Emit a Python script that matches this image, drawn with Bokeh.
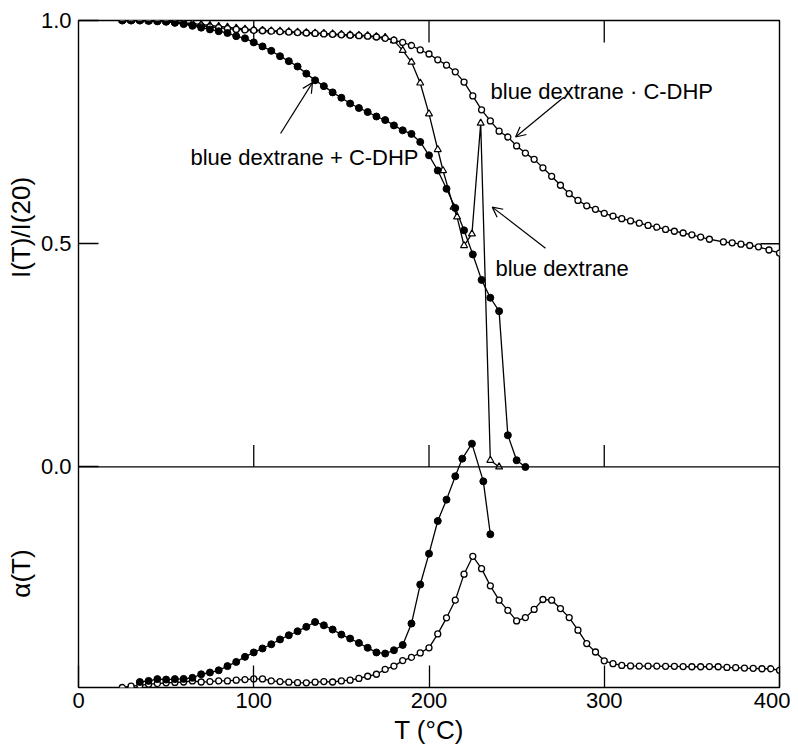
import math
from bokeh.plotting import figure
from bokeh.models import Range1d, LinearAxis, FixedTicker, Span, Label, Arrow, OpenHead, NumeralTickFormatter
from bokeh.embed import file_html
from bokeh.resources import INLINE

# ---------------- data ----------------
# I(T)/I(20) : blue dextrane . C-DHP (open circles)
bdc_T = [25, 30, 35, 40, 45, 50, 55, 60, 65, 70, 75, 80, 85, 90, 95, 100, 105, 110, 115, 120,
         125, 130, 135, 140, 145, 150, 155, 160, 165, 170, 175, 180, 185, 190, 195, 200, 205, 210,
         215, 220, 225, 230, 235, 240, 245, 250, 255, 260, 265, 270, 275, 280, 285, 290, 295, 300,
         305, 310, 315, 320, 325, 330, 335, 340, 345, 350, 355, 360, 368, 373, 378, 383, 388, 394, 400]
bdc_I = [1.000, 1.000, 1.000, 1.000, 1.000, 0.998, 0.995, 0.993, 0.990, 0.988, 0.986, 0.984, 0.982,
         0.980, 0.979, 0.978, 0.977, 0.976, 0.975, 0.974, 0.973, 0.972, 0.971, 0.970, 0.969, 0.968,
         0.967, 0.966, 0.965, 0.963, 0.960, 0.956, 0.951, 0.944, 0.934, 0.925, 0.912, 0.900, 0.885,
         0.862, 0.831, 0.800, 0.775, 0.752, 0.739, 0.719, 0.703, 0.689, 0.670, 0.651, 0.631, 0.612,
         0.597, 0.585, 0.577, 0.568, 0.562, 0.556, 0.551, 0.546, 0.541, 0.537, 0.532, 0.528, 0.524,
         0.520, 0.515, 0.510, 0.504, 0.502, 0.499, 0.496, 0.493, 0.486, 0.479]

# I(T)/I(20) : blue dextrane (open triangles)
bd_T = [25, 30, 35, 40, 45, 50, 55, 60, 65, 70, 75, 80, 85, 90, 95, 100, 105, 110, 115, 120, 125,
        130, 135, 140, 145, 150, 155, 160, 165, 170, 175, 180, 185, 190, 195, 200, 205, 208, 214,
        216, 220, 224.5, 229.5, 235, 240]
bd_I = [1.000, 1.000, 1.000, 0.999, 0.999, 0.998, 0.997, 0.995, 0.993, 0.991, 0.989, 0.987, 0.985,
        0.983, 0.981, 0.979, 0.978, 0.977, 0.976, 0.975, 0.974, 0.973, 0.972, 0.971, 0.970, 0.969,
        0.968, 0.967, 0.966, 0.964, 0.962, 0.955, 0.933, 0.907, 0.860, 0.791, 0.711, 0.664, 0.582,
        0.560, 0.496, 0.522, 0.770, 0.015, 0.000]

# I(T)/I(20) : blue dextrane + C-DHP (filled circles)
mix_T = [25, 30, 35, 40, 45, 50, 55, 60, 65, 70, 75, 80, 85, 90, 95, 100, 105, 110, 115, 120, 125,
         130, 135, 140, 145, 150, 155, 160, 165, 170, 175, 180, 185, 190, 195, 200, 205, 210, 215,
         220, 225, 230, 235, 240, 245, 250, 255]
mix_I = [1.000, 1.000, 1.000, 0.999, 0.998, 0.997, 0.995, 0.992, 0.988, 0.984, 0.980, 0.976, 0.972,
         0.965, 0.960, 0.951, 0.942, 0.932, 0.920, 0.909, 0.897, 0.881, 0.866, 0.853, 0.839, 0.827,
         0.814, 0.804, 0.795, 0.785, 0.777, 0.765, 0.754, 0.746, 0.728, 0.698, 0.664, 0.623, 0.580,
         0.530, 0.476, 0.419, 0.379, 0.349, 0.071, 0.015, 0.000]

# alpha(T) (arbitrary units) : blue dextrane + C-DHP (filled circles)
amix_T = [35, 40, 45, 50, 55, 60, 65, 70, 75, 80, 85, 90, 95, 100, 105, 110, 115, 120, 125, 130,
          135, 140, 145, 150, 155, 160, 165, 170, 175, 180, 185, 190, 195, 200, 205, 210, 215, 219,
          224.5, 231, 235]
amix_a = [0.025, 0.030, 0.038, 0.036, 0.038, 0.039, 0.044, 0.060, 0.068, 0.078, 0.097, 0.116, 0.139,
          0.159, 0.177, 0.196, 0.218, 0.237, 0.255, 0.275, 0.297, 0.282, 0.263, 0.240, 0.222, 0.202,
          0.180, 0.159, 0.154, 0.169, 0.193, 0.290, 0.467, 0.607, 0.755, 0.852, 0.958, 1.038, 1.106,
          0.935, 0.695]

# alpha(T) (arbitrary units) : blue dextrane . C-DHP (open circles)
abdc_T = [25, 30, 35, 40, 45, 50, 55, 60, 65, 70, 75, 80, 85, 90, 95, 100, 105, 110, 115, 120, 125,
          130, 135, 140, 145, 150, 155, 160, 165, 170, 175, 180, 185, 190, 195, 200, 205, 210, 215,
          220, 225, 230, 235, 240, 245, 250, 255, 260, 265, 270, 275, 280, 285, 290, 295, 300, 305,
          310, 315, 320, 325, 330, 335, 340, 345, 350, 355, 360, 365, 370, 375, 380, 385, 390, 395, 400]
abdc_a = [0.000, 0.006, 0.010, 0.015, 0.018, 0.021, 0.023, 0.025, 0.030, 0.025, 0.027, 0.030, 0.030,
          0.033, 0.036, 0.039, 0.039, 0.030, 0.027, 0.024, 0.022, 0.021, 0.024, 0.027, 0.025, 0.030,
          0.033, 0.041, 0.051, 0.060, 0.082, 0.097, 0.122, 0.137, 0.157, 0.180, 0.243, 0.316, 0.396,
          0.514, 0.595, 0.539, 0.461, 0.396, 0.350, 0.302, 0.317, 0.354, 0.399, 0.396, 0.358, 0.317,
          0.260, 0.199, 0.161, 0.121, 0.108, 0.100, 0.098, 0.097, 0.097, 0.097, 0.096, 0.096, 0.095,
          0.094, 0.094, 0.095, 0.094, 0.091, 0.090, 0.088, 0.087, 0.085, 0.085, 0.078]

x_ticks = [0, 100, 200, 300, 400]
y_ticks = [0.0, 0.5, 1.0]
inner_ticks = [100, 200, 300]
right_ticks = [0.5]
# positions (in frame pixels from the bottom) of the two y-axis titles
title_pos = {114: "α(T)", 460: "I(T)/I(20)"}

FONT = "Liberation Sans"
FRAME_W, FRAME_H = 701, 667
Y0, Y1 = -0.494, 1.0
X0, X1 = 0, 400
PX_PER_Y = FRAME_H / (Y1 - Y0)
PX_PER_X = FRAME_W / (X1 - X0)

# ---------------- figure ----------------
p = figure(width=790, height=750, output_backend="svg", toolbar_location=None,
           x_range=Range1d(X0, X1), y_range=Range1d(Y0, Y1),
           x_axis_location=None, y_axis_location=None,
           min_border_left=78, min_border_right=11, min_border_top=20, min_border_bottom=63)
p.extra_y_ranges = {"alpha": Range1d(0, 3.025), "lab": Range1d(0, FRAME_H)}
p.grid.visible = False
p.outline_line_color = "black"
p.outline_line_width = 1.4
p.background_fill_color = "white"
p.border_fill_color = "white"

def style_axis(ax):
    ax.major_tick_out = 0
    ax.minor_tick_in = 0
    ax.minor_tick_out = 0
    ax.axis_line_color = None
    ax.major_tick_line_color = "black"
    ax.major_tick_line_width = 1.3
    ax.major_label_text_font = FONT
    ax.major_label_text_font_size = "22px"
    ax.major_label_text_color = "black"

left = LinearAxis(ticker=FixedTicker(ticks=y_ticks), formatter=NumeralTickFormatter(format="0.0"))
style_axis(left)
left.major_tick_in = 20
left.major_label_standoff = 7
p.add_layout(left, "left")

# outer left "axis" that only carries the two rotated y titles
lab = LinearAxis(y_range_name="lab", ticker=FixedTicker(ticks=list(title_pos.keys())),
                 major_label_overrides=title_pos)
style_axis(lab)
lab.major_tick_in = 0
lab.major_tick_line_color = None
lab.major_label_text_font_size = "26px"
lab.major_label_orientation = "vertical"
lab.major_label_standoff = 2
p.add_layout(lab, "left")

bottom = LinearAxis(ticker=FixedTicker(ticks=x_ticks), axis_label="T (°C)")
style_axis(bottom)
bottom.major_tick_in = 22
bottom.major_label_standoff = 5
bottom.axis_label_text_font = FONT
bottom.axis_label_text_font_size = "26px"
bottom.axis_label_text_font_style = "normal"
bottom.axis_label_text_color = "black"
bottom.axis_label_standoff = 4
p.add_layout(bottom, "below")

# dividing line at I = 0, ticks on it, on the top edge and on the right edge
p.add_layout(Span(location=0, dimension="width", line_color="black", line_width=1.3))
n = len(inner_ticks)
p.segment(x0=inner_ticks, y0=[0] * n, x1=inner_ticks, y1=[22 / PX_PER_Y] * n,
          line_color="black", line_width=1.3)
p.segment(x0=inner_ticks, y0=[Y1] * n, x1=inner_ticks, y1=[Y1 - 22 / PX_PER_Y] * n,
          line_color="black", line_width=1.3)
m = len(right_ticks)
p.segment(x0=[X1 - 19 / PX_PER_X] * m, y0=right_ticks, x1=[X1] * m, y1=right_ticks,
          line_color="black", line_width=1.3)

LW = 1.3
# upper panel curves
p.line(bdc_T, bdc_I, line_color="black", line_width=LW)
p.line(bd_T, bd_I, line_color="black", line_width=LW)
p.line(mix_T, mix_I, line_color="black", line_width=LW)
p.scatter(bd_T, bd_I, marker="triangle", size=7, fill_color="white", line_color="black", line_width=1.2)
p.scatter(bdc_T, bdc_I, marker="circle", size=6, fill_color="white", line_color="black", line_width=1.3)
p.scatter(mix_T, mix_I, marker="circle", size=7, fill_color="black", line_color="black")

# alpha panel curves
p.line(amix_T, amix_a, y_range_name="alpha", line_color="black", line_width=LW)
p.line(abdc_T, abdc_a, y_range_name="alpha", line_color="black", line_width=LW)
p.scatter(abdc_T, abdc_a, y_range_name="alpha", marker="circle", size=6, fill_color="white",
          line_color="black", line_width=1.3)
p.scatter(amix_T, amix_a, y_range_name="alpha", marker="circle", size=7, fill_color="black",
          line_color="black")

# annotations
def txt(x, y, s, size="22px"):
    p.add_layout(Label(x=x, y=y, text=s, text_font=FONT, text_font_size=size, text_color="black",
                       text_align="left", text_baseline="alphabetic"))

txt(63.9, 0.693, "blue dextrane + C-DHP")
txt(235.1, 0.840, "blue dextrane · C-DHP")
txt(237.9, 0.444, "blue dextrane")

for xs, ys, xe, ye in [(115.3, 0.747, 133.5, 0.861), (276.9, 0.828, 249.4, 0.739),
                       (266.5, 0.490, 236.1, 0.582)]:
    p.add_layout(Arrow(x_start=xs, y_start=ys, x_end=xe, y_end=ye, line_color="black", line_width=1.2,
                       end=OpenHead(size=10, line_color="black", line_width=1.2)))

open("out.html", "w").write(file_html(p, INLINE))
